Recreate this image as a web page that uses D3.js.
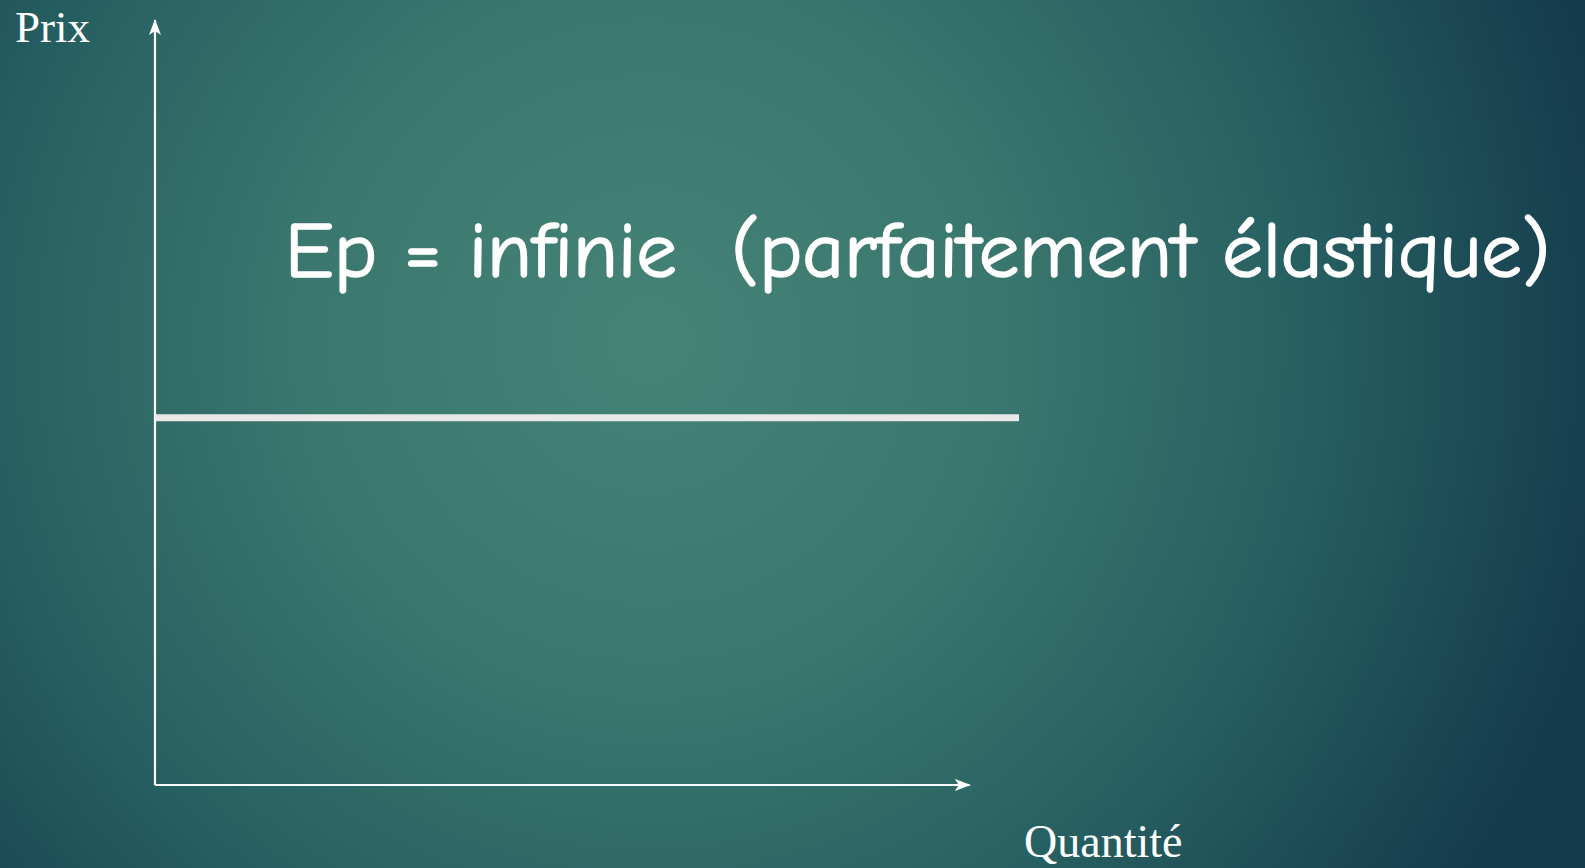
<!DOCTYPE html>
<html>
<head>
<meta charset="utf-8">
<script src="https://cdn.jsdelivr.net/npm/d3@7"></script>
<style>
  html, body { margin: 0; padding: 0; overflow: hidden; }
  #chart { width: 1585px; height: 868px; }
</style>
</head>
<body>
<div id="chart"></div>
<script>
// values
const quantityDomain = [0, 100];
const priceDomain = [0, 100];
const axisEnds = {quantity: 94.3, price: 100};
const demandQuantities = [0, 100];
const demandPrices = [48, 48];
const axisLabels = ["Prix", "Quantité"];
const title = "Ep = infinie  (parfaitement élastique)";

const width = 1585, height = 868;

const svg = d3.select("#chart").append("svg")
    .attr("width", width)
    .attr("height", height);

// background: teal radial glow
const defs = svg.append("defs");
const grad = defs.append("radialGradient")
    .attr("id", "bg")
    .attr("gradientUnits", "userSpaceOnUse")
    .attr("cx", 650).attr("cy", 340).attr("r", 1000);
grad.append("stop").attr("offset", 0).attr("stop-color", "#458377");
grad.append("stop").attr("offset", 0.35).attr("stop-color", "#3a776e");
grad.append("stop").attr("offset", 0.66).attr("stop-color", "#265f61");
grad.append("stop").attr("offset", 0.95).attr("stop-color", "#163e4e");
grad.append("stop").attr("offset", 1).attr("stop-color", "#143a4b");

svg.append("rect")
    .attr("width", width).attr("height", height)
    .attr("fill", "url(#bg)");

defs.append("marker")
    .attr("id", "arrow")
    .attr("viewBox", "0 0 16 12")
    .attr("refX", 15).attr("refY", 6)
    .attr("markerWidth", 16).attr("markerHeight", 12)
    .attr("markerUnits", "userSpaceOnUse")
    .attr("orient", "auto")
    .append("path")
    .attr("d", "M0,0 L16,6 L0,12 L4,6 Z")
    .attr("fill", "#ffffff");

// scales
const x = d3.scaleLinear().domain(quantityDomain).range([155, 1019]);
const y = d3.scaleLinear().domain(priceDomain).range([785, 20]);

// axes drawn as arrows
svg.append("line")
    .attr("x1", x(0)).attr("y1", y(0))
    .attr("x2", x(0)).attr("y2", y(axisEnds.price))
    .attr("stroke", "#ffffff").attr("stroke-width", 2.2)
    .attr("marker-end", "url(#arrow)");

svg.append("line")
    .attr("x1", x(0)).attr("y1", y(0))
    .attr("x2", x(axisEnds.quantity)).attr("y2", y(0))
    .attr("stroke", "#ffffff").attr("stroke-width", 2.2)
    .attr("marker-end", "url(#arrow)");

// perfectly elastic demand
const line = d3.line()
    .x((d, i) => x(d))
    .y((d, i) => y(demandPrices[i]));

svg.append("path")
    .attr("d", line(demandQuantities))
    .attr("fill", "none")
    .attr("stroke", "#e8e8e8")
    .attr("stroke-width", 7);

// axis labels
svg.append("text")
    .attr("x", 15).attr("y", 42)
    .attr("font-family", "'Liberation Serif', 'Times New Roman', serif")
    .attr("font-size", 45)
    .attr("fill", "#ffffff")
    .text(axisLabels[0]);

svg.append("text")
    .attr("x", 1024).attr("y", 857)
    .attr("font-family", "'Liberation Serif', 'Times New Roman', serif")
    .attr("font-size", 46)
    .attr("fill", "#ffffff")
    .text(axisLabels[1]);

// title
svg.append("text")
    .attr("x", 285).attr("y", 277)
    .attr("font-family", "'Comic Sans MS', 'Comic Neue', 'DejaVu Sans', sans-serif")
    .attr("font-size", 78)
    .attr("fill", "#ffffff")
    .attr("stroke", "#ffffff")
    .attr("stroke-width", 1.6)
    .attr("stroke-linejoin", "round")
    .attr("textLength", 1265)
    .attr("lengthAdjust", "spacingAndGlyphs")
    .style("white-space", "pre")
    .text(title);
</script>
</body>
</html>
